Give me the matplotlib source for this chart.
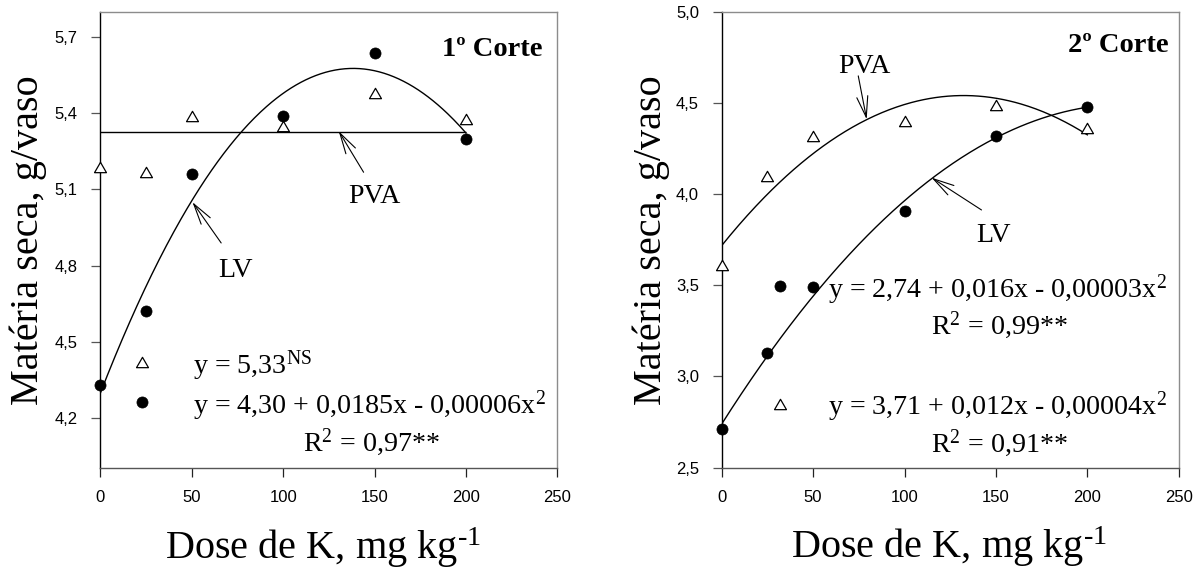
import numpy as np
import matplotlib
matplotlib.use("Agg")
import matplotlib.pyplot as plt
from matplotlib.lines import Line2D
from matplotlib.path import Path

# ---------------- data ----------------
dose = [0, 25, 50, 100, 150, 200]
lv_c1 = [4.33, 4.62, 5.16, 5.39, 5.64, 5.30]
pva_c1 = [5.19, 5.17, 5.39, 5.35, 5.48, 5.38]
lv_c2 = [2.71, 3.13, 3.49, 3.91, 4.32, 4.48]
pva_c2 = [3.61, 4.10, 4.32, 4.40, 4.49, 4.36]

x_ticks = [0, 50, 100, 150, 200, 250]
x_ticklabels = ['0', '50', '100', '150', '200', '250']
y_ticks_c1 = [4.2, 4.5, 4.8, 5.1, 5.4, 5.7]
y_ticklabels_c1 = ['4,2', '4,5', '4,8', '5,1', '5,4', '5,7']
y_ticks_c2 = [2.5, 3.0, 3.5, 4.0, 4.5, 5.0]
y_ticklabels_c2 = ['2,5', '3,0', '3,5', '4,0', '4,5', '5,0']
ylim_c1 = (4.0, 5.8)
ylim_c2 = (2.5, 5.0)

titles = ['1\u00ba Corte', '2\u00ba Corte']
xlabel_text = r'Dose de K, mg kg$^{\text{-}1}$'
ylabel_text = 'Matéria seca, g/vaso'

eq_c1_pva = r'y = 5,33$^{\mathrm{NS}}$'
eq_c1_lv = r'y = 4,30 + 0,0185x - 0,00006x$^{2}$'
r2_c1_lv = r'R$^{2}$ = 0,97**'
eq_c2_lv = r'y = 2,74 + 0,016x - 0,00003x$^{2}$'
r2_c2_lv = r'R$^{2}$ = 0,99**'
eq_c2_pva = r'y = 3,71 + 0,012x - 0,00004x$^{2}$'
r2_c2_pva = r'R$^{2}$ = 0,91**'

# ---------------- style ----------------
plt.rcParams['font.family'] = ['Liberation Serif', 'DejaVu Serif']
plt.rcParams['mathtext.fontset'] = 'custom'
plt.rcParams['mathtext.rm'] = 'Liberation Serif'
plt.rcParams['mathtext.it'] = 'Liberation Serif:italic'
plt.rcParams['mathtext.bf'] = 'Liberation Serif:bold'
plt.rcParams['mathtext.default'] = 'regular'

FS_TXT = 20.2
FS_LAB = 29
FS_TICK = 12
TRI = Path([(-1, -0.866), (1, -0.866), (0, 0.866), (-1, -0.866)],
           [Path.MOVETO, Path.LINETO, Path.LINETO, Path.CLOSEPOLY])
tri_kw = dict(marker=TRI, ms=8.6, mfc='white', mec='black', mew=0.9, ls='none')
dot_kw = dict(marker='o', ms=8.0, mfc='black', mec='black', mew=0.5, ls='none')
arrow_kw = dict(arrowstyle='->,head_length=0.75,head_width=0.2', lw=0.8,
                color='black', shrinkA=0, shrinkB=0, mutation_scale=20)

fig = plt.figure(figsize=(12, 5.7), dpi=100)
ax1 = fig.add_axes([0.0836, 0.1785, 0.3809, 0.8003])
ax2 = fig.add_axes([0.6014, 0.1795, 0.3809, 0.8000])


def style_axes(ax, yticks, yticklabels, ylim, xlab_x, ylab_x):
    ax.set_xlim(0, 250)
    ax.set_ylim(*ylim)
    ax.set_xticks(x_ticks)
    ax.set_xticklabels(x_ticklabels, family='Liberation Sans', fontsize=FS_TICK)
    ax.set_yticks(yticks)
    ax.set_yticklabels(yticklabels, family='Liberation Sans', fontsize=FS_TICK)
    ax.tick_params(axis='x', direction='out', length=6.3, width=0.9, pad=9.5,
                   color='#222222')
    ax.tick_params(axis='y', direction='out', length=6.3, width=0.9, pad=10,
                   color='#555555')
    ax.spines['left'].set_color('black')
    ax.spines['bottom'].set_color('#555555')
    ax.spines['top'].set_color('#8c8c8c')
    ax.spines['right'].set_color('#8c8c8c')
    for s in ax.spines.values():
        s.set_linewidth(1.0)
    ax.set_xlabel(xlabel_text, fontsize=FS_LAB)
    ax.xaxis.set_label_coords(xlab_x, -0.199)
    ax.xaxis.label.set_va('baseline')
    ax.set_ylabel(ylabel_text, fontsize=FS_LAB)
    ax.yaxis.set_label_coords(ylab_x, 0.5)


# ---------------- 1o Corte ----------------
x = np.array(dose, dtype=float)
xf = np.linspace(min(dose), max(dose), 300)
c_lv1 = np.polyfit(x, lv_c1, 2)
ax1.plot(xf, np.polyval(c_lv1, xf), color='black', lw=1.0, zorder=2)
ax1.hlines(np.mean(pva_c1), min(dose), max(dose), color='black', lw=1.0, zorder=2)
ax1.plot(dose, lv_c1, clip_on=False, zorder=3, **dot_kw)
ax1.plot(dose, pva_c1, clip_on=False, zorder=4, **tri_kw)

style_axes(ax1, y_ticks_c1, y_ticklabels_c1, ylim_c1, 0.486, -0.116)
ax1.text(0.968, 0.9036, titles[0], transform=ax1.transAxes, ha='right',
         va='baseline', fontsize=20.5, fontweight='bold')

leg1 = ax1.legend([Line2D([], [], **tri_kw), Line2D([], [], **dot_kw)],
                  [eq_c1_pva, eq_c1_lv], loc='upper left',
                  bbox_to_anchor=(0.0611, 0.262), frameon=False, borderpad=0,
                  borderaxespad=0, handlelength=1.0, handleheight=1.2,
                  handletextpad=1.3, labelspacing=0.2, numpoints=1,
                  prop=dict(family='Liberation Serif', size=FS_TXT))
ax1.text(0.594, 0.040, r2_c1_lv, transform=ax1.transAxes, ha='center',
         va='baseline', fontsize=FS_TXT)

ax1.annotate('', xy=(130.4, 5.33), xytext=(144.0, 5.168), arrowprops=arrow_kw)
ax1.text(149.7, 5.045, 'PVA', ha='center', va='baseline', fontsize=FS_TXT)
ax1.annotate('', xy=(50.4, 5.05), xytext=(66.1, 4.889), arrowprops=arrow_kw)
ax1.text(73.9, 4.756, 'LV', ha='center', va='baseline', fontsize=FS_TXT)

# ---------------- 2o Corte ----------------
c_lv2 = np.polyfit(x, lv_c2, 2)
c_pva2 = np.polyfit(x, pva_c2, 2)
ax2.plot(xf, np.polyval(c_lv2, xf), color='black', lw=1.0, zorder=2)
ax2.plot(xf, np.polyval(c_pva2, xf), color='black', lw=1.0, zorder=2)
ax2.plot(dose, lv_c2, clip_on=False, zorder=3, **dot_kw)
ax2.plot(dose, pva_c2, clip_on=False, zorder=4, **tri_kw)

style_axes(ax2, y_ticks_c2, y_ticklabels_c2, ylim_c2, 0.498, -0.114)
ax2.text(0.977, 0.912, titles[1], transform=ax2.transAxes, ha='right',
         va='baseline', fontsize=20.5, fontweight='bold')

leg2 = ax2.legend([Line2D([], [], **dot_kw), Line2D([], [], **tri_kw)],
                  [eq_c2_lv, eq_c2_pva], loc='upper left',
                  bbox_to_anchor=(0.0977, 0.4285), frameon=False, borderpad=0,
                  borderaxespad=0, handlelength=1.0, handleheight=1.0,
                  handletextpad=1.19, labelspacing=2.95, numpoints=1,
                  prop=dict(family='Liberation Serif', size=FS_TXT))
ax2.text(0.608, 0.2947, r2_c2_lv, transform=ax2.transAxes, ha='center',
         va='baseline', fontsize=FS_TXT)
ax2.text(0.608, 0.035, r2_c2_pva, transform=ax2.transAxes, ha='center',
         va='baseline', fontsize=FS_TXT)

ax2.annotate('', xy=(79.3, 4.41), xytext=(74.7, 4.648), arrowprops=arrow_kw)
ax2.text(77.8, 4.662, 'PVA', ha='center', va='baseline', fontsize=FS_TXT)
ax2.annotate('', xy=(114.8, 4.09), xytext=(142.1, 3.913), arrowprops=arrow_kw)
ax2.text(148.5, 3.739, 'LV', ha='center', va='baseline', fontsize=FS_TXT)

fig.savefig('out.png', dpi=100)
